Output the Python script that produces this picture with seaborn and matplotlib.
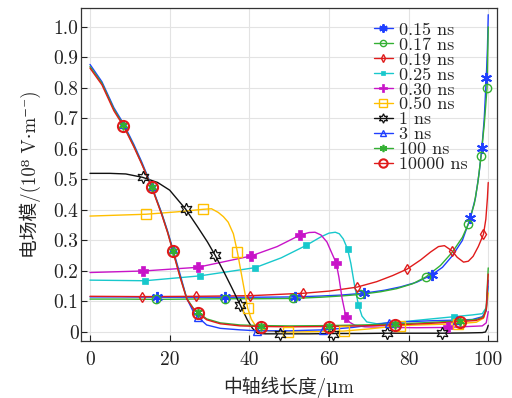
import numpy as np
import pandas as pd
import matplotlib
matplotlib.use("Agg")
import matplotlib.pyplot as plt
from matplotlib.lines import Line2D
import seaborn as sns

# ---------------- data ----------------
labels = ["0.15 ns", "0.17 ns", "0.19 ns", "0.25 ns", "0.30 ns", "0.50 ns",
          "1 ns", "3 ns", "100 ns", "10000 ns"]

x_015 = [0, 8, 16.9, 25, 33.9, 42, 51.5, 58, 63, 68.7, 74, 78, 82, 85.8, 88.5, 91, 93.5, 95.5, 96.8, 97.7, 98.4, 99, 99.5, 99.8, 100]
y_015 = [0.115, 0.115, 0.114, 0.114, 0.114, 0.114, 0.115, 0.118, 0.121, 0.127, 0.137, 0.148, 0.163, 0.187, 0.212, 0.25, 0.3, 0.373, 0.44, 0.52, 0.602, 0.7, 0.832, 0.93, 1.04]
m_015 = [16.9, 33.9, 51.5, 68.7, 85.8, 95.5, 98.4, 99.5]

x_017 = [0, 8, 16.6, 25, 33.9, 42, 50.9, 58, 63, 67.8, 73, 77, 81, 84.4, 88, 91, 93.5, 95, 96.5, 97.4, 98.2, 99, 99.7, 100]
y_017 = [0.108, 0.108, 0.107, 0.108, 0.109, 0.109, 0.11, 0.114, 0.118, 0.123, 0.132, 0.142, 0.158, 0.181, 0.218, 0.262, 0.31, 0.354, 0.42, 0.49, 0.577, 0.68, 0.80, 1.0]
m_017 = [16.6, 33.9, 50.9, 67.8, 84.4, 95, 98.2, 99.7]

x_019 = [0, 13, 26.6, 40.2, 53.6, 60, 67, 72, 76, 79.6, 83, 85.5, 87.5, 89, 90.9, 92.2, 93.8, 95, 96.2, 97.5, 98.8, 99.4, 99.8, 100]
y_019 = [0.117, 0.116, 0.117, 0.119, 0.127, 0.134, 0.147, 0.165, 0.185, 0.206, 0.236, 0.262, 0.28, 0.283, 0.266, 0.245, 0.229, 0.232, 0.248, 0.28, 0.32, 0.37, 0.44, 0.49]
m_019 = [13, 26.6, 40.2, 53.6, 67, 79.6, 90.9, 98.8]

x_025 = [0, 13.8, 27.6, 41.5, 48, 54.3, 58, 60, 61.6, 62.6, 63.6, 64.7, 65.5, 66.4, 67.4, 68.3, 69.5, 72, 78, 85, 91.3, 96, 98.5, 99.5, 100]
y_025 = [0.17, 0.168, 0.184, 0.211, 0.243, 0.284, 0.312, 0.324, 0.327, 0.322, 0.305, 0.271, 0.225, 0.155, 0.089, 0.052, 0.033, 0.027, 0.033, 0.042, 0.05, 0.056, 0.06, 0.08, 0.15]
m_025 = [13.8, 27.6, 41.5, 54.3, 64.7, 67.4, 91.3]

x_030 = [0, 13.4, 27, 40.4, 47, 52.8, 55, 56.5, 58, 59.5, 60.5, 61.8, 62.5, 63.3, 64.3, 65.2, 66.5, 69, 75, 82, 89.9, 95, 98.5, 99.5, 100]
y_030 = [0.195, 0.2, 0.212, 0.249, 0.28, 0.318, 0.326, 0.327, 0.318, 0.295, 0.265, 0.227, 0.18, 0.11, 0.048, 0.032, 0.022, 0.017, 0.015, 0.014, 0.015, 0.018, 0.02, 0.03, 0.067]
m_030 = [13.4, 27, 40.4, 52.8, 61.8, 64.3, 89.9]

x_050 = [0, 14.1, 22, 28.3, 30.5, 32.2, 33.5, 34.7, 36, 37, 38.3, 39.6, 40.5, 41.5, 43, 45, 49.6, 56, 63.7, 70, 77.9, 85, 92.4, 97, 98.8, 99.5, 100]
y_050 = [0.38, 0.386, 0.394, 0.402, 0.404, 0.392, 0.378, 0.36, 0.322, 0.263, 0.17, 0.078, 0.042, 0.022, 0.01, 0.003, 0.0, 0.001, 0.003, 0.01, 0.021, 0.024, 0.027, 0.032, 0.045, 0.07, 0.128]
m_050 = [14.1, 28.3, 37, 39.6, 49.6, 63.7, 77.9, 92.4]

x_1 = [0, 5, 9, 13.2, 17, 20, 24, 27, 29.5, 31.4, 33.5, 35.5, 37.7, 39.5, 40.8, 42, 44, 47.6, 55, 61.1, 68, 74.7, 81, 88.5, 95, 98.5, 99.3, 99.7, 100]
y_1 = [0.52, 0.52, 0.518, 0.507, 0.49, 0.465, 0.403, 0.345, 0.295, 0.252, 0.2, 0.148, 0.089, 0.04, 0.012, -0.004, -0.006, -0.006, -0.006, -0.005, -0.005, -0.004, -0.004, -0.004, -0.003, -0.002, 0.0, 0.01, 0.022]
m_1 = [13.2, 24, 31.4, 37.7, 47.6, 61.1, 74.7, 88.5]

x_3 = [0, 3, 6, 8.4, 11, 13, 15.5, 18, 19.5, 20.8, 22.6, 24.3, 26, 27, 29.3, 32.7, 37.7, 41.9, 50, 58.6, 66, 72, 75.2, 80, 86, 92.1, 96, 98.5, 99.5, 100]
y_3 = [0.877, 0.82, 0.735, 0.683, 0.615, 0.557, 0.478, 0.39, 0.33, 0.272, 0.19, 0.11, 0.065, 0.05, 0.023, 0.012, 0.007, 0.004, 0.004, 0.007, 0.015, 0.025, 0.031, 0.034, 0.037, 0.039, 0.041, 0.05, 0.07, 0.17]
m_3 = [8.4, 15.5, 20.8, 27, 41.9, 58.6, 75.2, 92.1]

x_100 = [0, 3, 6, 8.4, 11, 13, 15.5, 18, 19.5, 20.8, 22.6, 24.3, 26, 27, 29.3, 32.7, 37.7, 43, 50, 59.9, 68, 76.5, 85, 93, 97, 98.8, 99.5, 100]
y_100 = [0.87, 0.815, 0.73, 0.678, 0.61, 0.552, 0.476, 0.387, 0.327, 0.267, 0.183, 0.11, 0.077, 0.066, 0.043, 0.03, 0.023, 0.021, 0.02, 0.021, 0.023, 0.026, 0.031, 0.037, 0.041, 0.05, 0.08, 0.21]
m_100 = [8.4, 15.5, 20.8, 27, 43, 59.9, 76.5, 93]

x_10000 = [0, 3, 6, 8.4, 11, 13, 15.5, 18, 19.5, 20.8, 22.6, 24.3, 26, 27, 29.3, 32.7, 37.7, 43, 50, 59.9, 68, 76.5, 85, 93, 97, 98.8, 99.5, 100]
y_10000 = [0.865, 0.81, 0.725, 0.675, 0.607, 0.55, 0.474, 0.385, 0.325, 0.265, 0.18, 0.108, 0.075, 0.063, 0.04, 0.027, 0.02, 0.018, 0.017, 0.018, 0.02, 0.023, 0.028, 0.034, 0.038, 0.047, 0.075, 0.19]
m_10000 = [8.4, 15.5, 20.8, 27, 43, 59.9, 76.5, 93]

x_ticks = [0, 20, 40, 60, 80, 100]
y_ticks = [0, 0.1, 0.2, 0.3, 0.4, 0.5, 0.6, 0.7, 0.8, 0.9, 1.0]
y_tick_labels = ["0", "0.1", "0.2", "0.3", "0.4", "0.5", "0.6", "0.7", "0.8", "0.9", "1.0"]

series_x = [x_015, x_017, x_019, x_025, x_030, x_050, x_1, x_3, x_100, x_10000]
series_y = [y_015, y_017, y_019, y_025, y_030, y_050, y_1, y_3, y_100, y_10000]
series_m = [m_015, m_017, m_019, m_025, m_030, m_050, m_1, m_3, m_100, m_10000]

# ---------------- styles ----------------
colors = ["#1f3fff", "#33b033", "#e01b1b", "#18c8cc", "#c814c8", "#ffbf00",
          "#111111", "#1f3fff", "#33b033", "#e01b1b"]
mstyle = [
    dict(marker=(6, 2, 0), ms=8, mew=1.4),
    dict(marker="o", ms=6, mew=1.0, mfc="none"),
    dict(marker="d", ms=5, mew=1.0, mfc="none"),
    dict(marker="s", ms=4.5, mew=0.5),
    dict(marker="P", ms=7, mew=0.5),
    dict(marker="s", ms=7, mew=1.0, mfc="none"),
    dict(marker=(6, 1, 0), ms=9, mew=0.9, mfc="none"),
    dict(marker="^", ms=6, mew=1.0, mfc="none"),
    dict(marker=(6, 2, 0), ms=7, mew=1.2),
    dict(marker="o", ms=8, mew=1.5, mfc="none"),
]

sns.set_style("white")
plt.rcParams["font.family"] = ["cmr10", "DejaVu Serif", "Noto Sans CJK SC"]
plt.rcParams["axes.formatter.use_mathtext"] = True
plt.rcParams["mathtext.fontset"] = "cm"

fig = plt.figure(figsize=(5.12, 3.98), dpi=100)
ax = fig.add_axes([81 / 512, 57 / 398, 416 / 512, 333 / 398])

frames = []
for lab, xs, ys in zip(labels, series_x, series_y):
    frames.append(pd.DataFrame({"x": xs, "y": ys, "series": lab}))
df = pd.concat(frames, ignore_index=True)

sns.lineplot(data=df, x="x", y="y", hue="series", hue_order=labels,
             palette=dict(zip(labels, colors)), sort=False, estimator=None,
             legend=False, linewidth=1.0, ax=ax, zorder=3)

handles = []
for lab, xs, ys, ms, c, st in zip(labels, series_x, series_y, series_m, colors, mstyle):
    idx = [xs.index(v) for v in ms]
    mx = [xs[i] for i in idx]
    my = [ys[i] for i in idx]
    kw = dict(st)
    kw.setdefault("mfc", c)
    ax.plot(mx, my, ls="none", color=c, mec=c, zorder=5, **kw)
    handles.append(Line2D([0], [0], color=c, lw=1.0, mec=c, label=lab,
                          **{k: (v * 0.75 if k == "ms" else v) for k, v in kw.items()}))

ax.set_xlim(-2.26, 102.2)
ax.set_ylim(-0.0295, 1.062)
ax.set_xticks(x_ticks)
ax.set_xticklabels([str(v) for v in x_ticks])
ax.set_yticks(y_ticks)
ax.set_yticklabels(y_tick_labels)
ax.grid(True, color="#e3e3e3", lw=0.8, zorder=0)
ax.set_axisbelow(True)
ax.tick_params(axis="both", direction="in", length=4, width=0.8, labelsize=14,
               colors="#222222", top=False, right=False, bottom=True, left=True)
ax.tick_params(axis="x", pad=7)
ax.tick_params(axis="y", pad=1.8)
for sp in ax.spines.values():
    sp.set_color("#333333")
    sp.set_linewidth(0.9)

ax.set_xlabel("中轴线长度/μm", fontsize=13.5, labelpad=6)
ax.set_ylabel("电场模/(10⁸ V·m⁻¹)", fontsize=13.5, labelpad=9)

leg = ax.legend(handles=handles, loc="upper left", bbox_to_anchor=(0.704, 0.958),
                frameon=False, fontsize=13, handlelength=1.05, handletextpad=0.33,
                labelspacing=-0.037, borderpad=0, borderaxespad=0)

fig.savefig("out.png", dpi=100)
